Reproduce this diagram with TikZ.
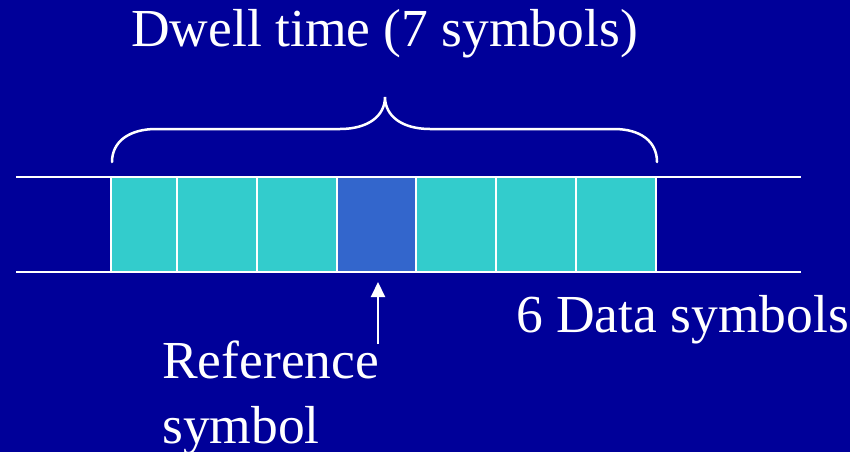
\documentclass[tikz,border=0pt]{standalone}
\usepackage{fontspec}
\setmainfont{Liberation Serif}
\usetikzlibrary{arrows.meta}
\definecolor{bgblue}{HTML}{000099}
\definecolor{datacyan}{HTML}{33CCCC}
\definecolor{refblue}{HTML}{3366CC}
\begin{document}
\begin{tikzpicture}[x=1pt,y=-1pt,
  symbox/.style={draw=white,line width=2.5pt,minimum height=95pt,inner sep=0pt,outer sep=0pt,anchor=north west},
  datasym/.style={symbox,fill=datacyan},
  refsym/.style={symbox,fill=refblue},
  label/.style={text=white,font=\fontsize{53.5}{64}\selectfont,inner sep=0pt,anchor=base west},
  wire/.style={draw=white,line width=2.5pt},
]
\fill[bgblue] (0,0) rectangle (850,452);
\useasboundingbox (0,0) rectangle (850,452);

% channel lines
\coordinate (tl) at (16,177);
\coordinate (tr) at (801,177);
\coordinate (bl) at (16,272);
\coordinate (br) at (801,272);
\draw[wire] (tl) -- (tr);
\draw[wire] (bl) -- (br);

% symbol slots
\node[datasym,minimum width=66pt] (s1) at (111,177) {};
\node[datasym,minimum width=80pt] (s2) at (177,177) {};
\node[datasym,minimum width=80pt] (s3) at (257,177) {};
\node[refsym, minimum width=79pt] (s4) at (337,177) {};
\node[datasym,minimum width=80pt] (s5) at (416,177) {};
\node[datasym,minimum width=80pt] (s6) at (496,177) {};
\node[datasym,minimum width=80pt] (s7) at (576,177) {};

% brace over the dwell time
\draw[wire,line cap=round]
  (112,162) .. controls (112,141) and (130,129) .. (156,129)
  -- (340,129) .. controls (368,129) and (385,116) .. (385,97)
  .. controls (385,116) and (402,129) .. (430,129)
  -- (614,129) .. controls (640,129) and (657,141) .. (657,162);

% labels
\node[label] (dwell) at (131,47) {Dwell time (7 symbols)};
\node[label] (data) at (516,332) {6 Data symbols};
\node[label] (ref1) at (162,378) {Reference};
\node[label] (ref2) at (162,443) {symbol};

% pointer to the reference symbol
\coordinate (arrtail) at (378,344);
\coordinate (arrhead) at (378,282);
\draw[wire,line width=2pt,-{Triangle[width=14pt,length=15pt]}] (arrtail) -- (arrhead);
\end{tikzpicture}
\end{document}
